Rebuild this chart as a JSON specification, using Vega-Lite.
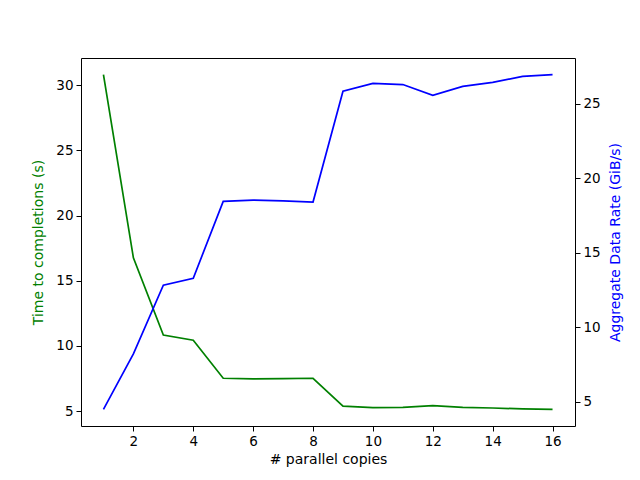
{
  "$schema": "https://vega.github.io/schema/vega-lite/v6.json",
  "autosize": "none",
  "width": 494,
  "height": 368,
  "padding": {"left": 81, "top": 58, "right": 65, "bottom": 54},
  "background": "white",
  "config": {
    "view": {"stroke": "black", "strokeWidth": 1},
    "font": "DejaVu Sans",
    "axis": {
      "grid": false,
      "domain": false,
      "tickColor": "black",
      "tickSize": 5,
      "tickWidth": 1,
      "labelFont": "DejaVu Sans",
      "labelFontSize": 13.5,
      "labelColor": "black",
      "labelPadding": 3,
      "titleFont": "DejaVu Sans",
      "titleFontSize": 14,
      "titleFontWeight": "normal",
      "titleColor": "black"
    }
  },
  "data": {
    "values": [
      {"copies": 1, "time": 30.8, "rate": 4.51},
      {"copies": 2, "time": 16.76, "rate": 8.22},
      {"copies": 3, "time": 10.83, "rate": 12.82},
      {"copies": 4, "time": 10.44, "rate": 13.29},
      {"copies": 5, "time": 7.52, "rate": 18.44},
      {"copies": 6, "time": 7.47, "rate": 18.53},
      {"copies": 7, "time": 7.49, "rate": 18.48},
      {"copies": 8, "time": 7.52, "rate": 18.4},
      {"copies": 9, "time": 5.38, "rate": 25.82},
      {"copies": 10, "time": 5.27, "rate": 26.35},
      {"copies": 11, "time": 5.29, "rate": 26.27},
      {"copies": 12, "time": 5.43, "rate": 25.55},
      {"copies": 13, "time": 5.29, "rate": 26.15},
      {"copies": 14, "time": 5.24, "rate": 26.42},
      {"copies": 15, "time": 5.17, "rate": 26.82},
      {"copies": 16, "time": 5.14, "rate": 26.93}
    ]
  },
  "encoding": {
    "x": {
      "field": "copies",
      "type": "quantitative",
      "scale": {"domain": [0.25, 16.75], "nice": false, "zero": false},
      "axis": {"values": [2, 4, 6, 8, 10, 12, 14, 16], "title": "# parallel copies", "titlePadding": 5}
    }
  },
  "layer": [
    {
      "mark": {"type": "line", "color": "#008000", "strokeWidth": 1.7},
      "encoding": {
        "y": {
          "field": "time",
          "type": "quantitative",
          "scale": {"domain": [3.86, 32.08], "nice": false, "zero": false},
          "axis": {"values": [5, 10, 15, 20, 25, 30], "title": "Time to completions (s)", "titleColor": "#008000", "titlePadding": 10}
        }
      }
    },
    {
      "mark": {"type": "line", "color": "#0000ff", "strokeWidth": 1.7},
      "encoding": {
        "y": {
          "field": "rate",
          "type": "quantitative",
          "scale": {"domain": [3.39, 28.05], "nice": false, "zero": false},
          "axis": {"orient": "right", "values": [5, 10, 15, 20, 25], "title": "Aggregate Data Rate (GiB/s)", "titleColor": "#0000ff", "titleAngle": 270, "titleBaseline": "top", "titlePadding": 8}
        }
      }
    }
  ],
  "resolve": {"scale": {"y": "independent"}}
}
